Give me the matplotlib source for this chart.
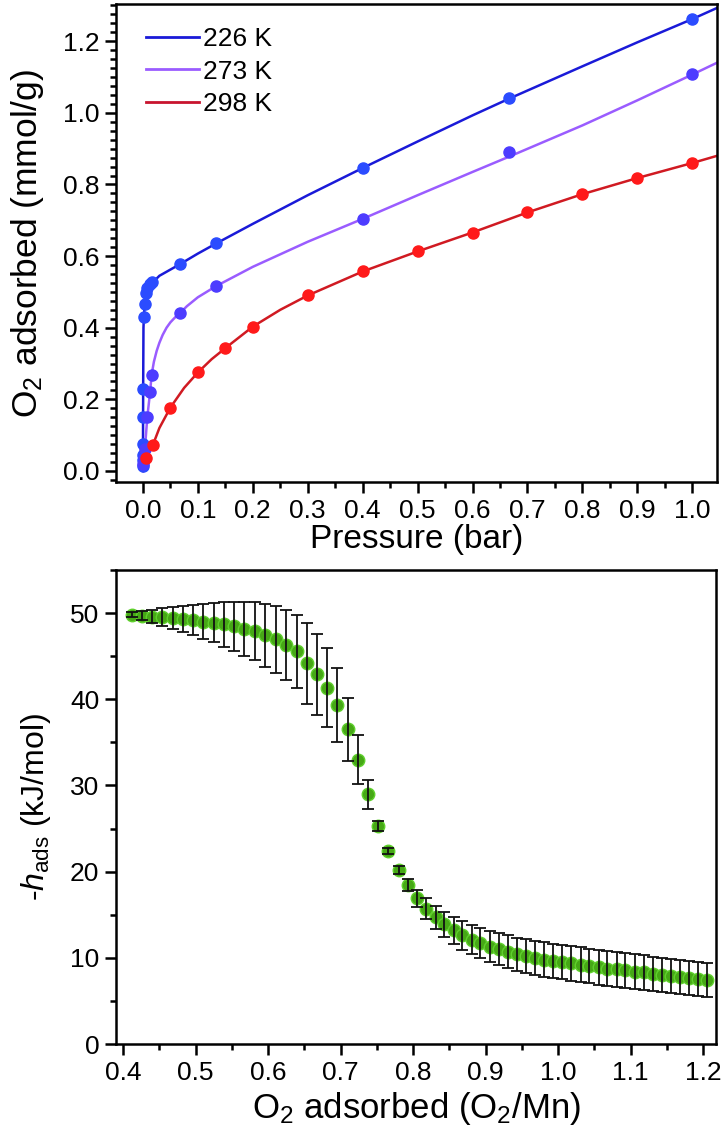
import matplotlib
matplotlib.use('Agg')
import matplotlib.pyplot as plt
from matplotlib.ticker import MultipleLocator

plt.rcParams['font.family'] = ['Liberation Sans', 'DejaVu Sans']
plt.rcParams['mathtext.fontset'] = 'custom'
plt.rcParams['mathtext.rm'] = 'Liberation Sans'
plt.rcParams['mathtext.it'] = 'Liberation Sans:italic'

# ---- top panel: O2 isotherms ----
labels = ['226 K', '273 K', '298 K']

p226 = [0.0, 0.0003, 0.0005, 0.001, 0.001, 0.001, 0.002, 0.003, 0.005, 0.008, 0.012, 0.016,
        0.067, 0.133, 0.4, 0.667, 1.0]
q226 = [0.015, 0.03, 0.045, 0.075, 0.15, 0.228, 0.43, 0.465, 0.497, 0.51, 0.522, 0.528,
        0.578, 0.636, 0.846, 1.042, 1.263]
fit_p226 = [0.0, 0.0005, 0.001, 0.002, 0.004, 0.008, 0.015, 0.03, 0.067, 0.1, 0.133, 0.2,
            0.3, 0.4, 0.5, 0.6, 0.667, 0.8, 0.9, 1.0, 1.045]
fit_q226 = [0.0, 0.25, 0.40, 0.44, 0.47, 0.50, 0.522, 0.545, 0.577, 0.607, 0.635, 0.69,
            0.77, 0.846, 0.92, 0.993, 1.04, 1.13, 1.197, 1.262, 1.293]

p273 = [0.001, 0.002, 0.004, 0.008, 0.013, 0.016, 0.067, 0.133, 0.4, 0.667, 1.0]
q273 = [0.02, 0.035, 0.06, 0.15, 0.22, 0.268, 0.44, 0.516, 0.704, 0.891, 1.108]
fit_p273 = [0.0, 0.002, 0.005, 0.008, 0.013, 0.016, 0.02, 0.025, 0.03, 0.036, 0.043,
            0.05, 0.058, 0.067, 0.08, 0.1, 0.133, 0.2, 0.3, 0.4, 0.5, 0.6, 0.667, 0.8,
            0.9, 1.0, 1.045]
fit_q273 = [0.0, 0.04, 0.09, 0.15, 0.22, 0.27, 0.305, 0.335, 0.358, 0.38, 0.40,
            0.415, 0.428, 0.44, 0.46, 0.485, 0.516, 0.57, 0.64, 0.704, 0.77, 0.835, 0.878,
            0.965, 1.035, 1.107, 1.14]

p298 = [0.005, 0.018, 0.05, 0.1, 0.15, 0.2, 0.3, 0.4, 0.5, 0.6, 0.7, 0.8, 0.9, 1.0]
q298 = [0.035, 0.072, 0.177, 0.275, 0.343, 0.403, 0.49, 0.557, 0.613, 0.664, 0.724,
        0.773, 0.818, 0.86]
fit_p298 = [0.0, 0.005, 0.018, 0.03, 0.05, 0.075, 0.1, 0.125, 0.15, 0.2, 0.25, 0.3, 0.4,
            0.5, 0.6, 0.7, 0.8, 0.9, 1.0, 1.045]
fit_q298 = [0.0, 0.035, 0.072, 0.12, 0.177, 0.232, 0.275, 0.312, 0.343, 0.403, 0.45,
            0.49, 0.557, 0.613, 0.666, 0.722, 0.773, 0.818, 0.86, 0.88]

# ---- bottom panel: isosteric heat ----
n_ads = [0.412, 0.426, 0.440, 0.454, 0.468, 0.482, 0.496, 0.510, 0.525, 0.539, 0.553,
         0.567, 0.582, 0.596, 0.611, 0.625, 0.640, 0.654, 0.668, 0.681, 0.695, 0.710,
         0.724, 0.738, 0.752, 0.766,
         0.780, 0.793, 0.806, 0.818, 0.831, 0.843, 0.856, 0.868, 0.881, 0.893, 0.906,
         0.918, 0.931, 0.943, 0.956, 0.968, 0.981, 0.993, 1.006, 1.018, 1.031, 1.043,
         1.056, 1.068, 1.081, 1.093, 1.106, 1.118, 1.131, 1.143, 1.156, 1.168, 1.181,
         1.193, 1.206]
h_ads = [49.8, 49.7, 49.6, 49.55, 49.45, 49.3, 49.2, 49.0, 48.9, 48.7, 48.45,
         48.15, 47.9, 47.45, 46.95, 46.3, 45.55, 44.2, 42.9, 41.35, 39.3, 36.5,
         33.0, 28.95, 25.3, 22.4,
         20.2, 18.4, 16.9, 15.7, 14.7, 13.9, 13.2, 12.6, 12.1, 11.7, 11.3,
         11.0, 10.7, 10.4, 10.2, 10.0, 9.8, 9.65, 9.5, 9.35, 9.2, 9.05,
         8.9, 8.75, 8.65, 8.55, 8.4, 8.3, 8.15, 8.0, 7.9, 7.8, 7.65,
         7.55, 7.45]
h_err = [0.3, 0.5, 0.7, 1.0, 1.25, 1.5, 1.75, 2.0, 2.3, 2.6, 2.85,
         3.1, 3.4, 3.65, 3.9, 4.1, 4.25, 4.7, 4.7, 4.55, 4.3, 3.7,
         2.8, 1.65, 0.6, 0.3,
         0.5, 0.7, 1.0, 1.2, 1.35, 1.45, 1.55, 1.65, 1.7, 1.75, 1.8,
         1.85, 1.9, 1.9, 1.95, 1.95, 2.0, 2.0, 2.0, 2.0, 2.0, 2.0,
         2.0, 2.0, 2.0, 2.0, 2.0, 2.0, 2.0, 2.0, 2.0, 2.0, 2.0,
         2.0, 2.0]

fig = plt.figure(figsize=(7.25, 11.45), dpi=100)
ax1 = fig.add_axes([0.16, 0.579, 0.829, 0.4175])
ax2 = fig.add_axes([0.16, 0.0882, 0.8276, 0.414])

line_cols = ['#1a1ad8', '#9a5cff', '#d01a22']
mark_cols = ['#2b4cff', '#4d3cff', '#ff1a1a']
leg_cols = ['#1a1ad8', '#9a5cff', '#c8142e']

series = [(p226, q226, fit_p226, fit_q226),
          (p273, q273, fit_p273, fit_q273),
          (p298, q298, fit_p298, fit_q298)]
handles = []
for i, (px, qy, fx, fy) in enumerate(series):
    ax1.plot(fx, fy, '-', color=line_cols[i], lw=1.8, zorder=2)
    ax1.plot(px, qy, 'o', color=mark_cols[i], ms=8, mec=mark_cols[i], zorder=3)
    h, = ax1.plot([], [], '-', color=leg_cols[i], lw=2.0, label=labels[i])
    handles.append(h)

ax1.legend(handles=handles, loc='upper left', bbox_to_anchor=(0.02, 0.99), frameon=False,
           fontsize=19, handlelength=2.0, handletextpad=0.15, labelspacing=0.32,
           borderaxespad=0.3)

ax1.set_xlim(-0.049, 1.045)
ax1.set_ylim(-0.031, 1.304)
ax1.xaxis.set_minor_locator(MultipleLocator(0.05))
ax1.yaxis.set_minor_locator(MultipleLocator(0.025))
ax1.set_xticks([0.0, 0.1, 0.2, 0.3, 0.4, 0.5, 0.6, 0.7, 0.8, 0.9, 1.0])
ax1.set_xticklabels(['0.0', '0.1', '0.2', '0.3', '0.4', '0.5', '0.6', '0.7', '0.8', '0.9', '1.0'])
ax1.set_yticks([0.0, 0.2, 0.4, 0.6, 0.8, 1.0, 1.2])
ax1.set_yticklabels(['0.0', '0.2', '0.4', '0.6', '0.8', '1.0', '1.2'])
ax1.set_xlabel('Pressure (bar)', fontsize=24, labelpad=1)
ax1.set_ylabel('O$_2$ adsorbed (mmol/g)', fontsize=25.5, labelpad=12)

ax2.plot(n_ads, h_ads, 'o', ms=9, color='#46a816', mec='#5fd02c', mew=1.0, zorder=2)
ax2.errorbar(n_ads, h_ads, yerr=h_err, fmt='none', ecolor='#111111', elinewidth=1.3,
             capsize=4, capthick=1.3, zorder=3)

ax2.set_xlim(0.39, 1.218)
ax2.set_ylim(0, 55)
ax2.set_xticks([0.4, 0.5, 0.6, 0.7, 0.8, 0.9, 1.0, 1.1, 1.2])
ax2.set_xticklabels(['0.4', '0.5', '0.6', '0.7', '0.8', '0.9', '1.0', '1.1', '1.2'])
ax2.xaxis.set_minor_locator(MultipleLocator(0.05))
ax2.set_yticks([0, 10, 20, 30, 40, 50])
ax2.yaxis.set_minor_locator(MultipleLocator(5))
ax2.set_xlabel('O$_2$ adsorbed (O$_2$/Mn)', fontsize=25, labelpad=4)
ax2.set_ylabel(r'-$h_{\mathrm{ads}}$ (kJ/mol)', fontsize=23, labelpad=12)

for ax in (ax1, ax2):
    for s in ax.spines.values():
        s.set_linewidth(1.8)
    ax.tick_params(which='major', direction='out', length=8, width=1.8, labelsize=19,
                   top=False, right=False, pad=4)
    ax.tick_params(which='minor', direction='out', length=4.5, width=1.8,
                   top=False, right=False)

fig.savefig('out.png', dpi=100)
